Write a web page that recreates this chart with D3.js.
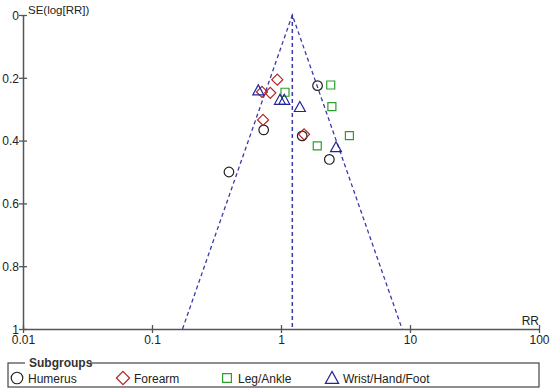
<!DOCTYPE html>
<html>
<head>
<meta charset="utf-8">
<script src="https://cdn.jsdelivr.net/npm/d3@7"></script>
<style>
  body { margin: 0; background: #fff; }
  svg { font-family: "Liberation Sans", Arial, sans-serif; }
</style>
</head>
<body>
<div id="funnel_plotParent"></div>
<script>
// study data
const humerusRR = [1.92, 0.734, 1.46, 2.37, 0.395];
const humerusSE = [0.225, 0.366, 0.385, 0.46, 0.50];
const forearmRR = [0.936, 0.826, 0.712, 0.726, 1.51];
const forearmSE = [0.206, 0.248, 0.245, 0.334, 0.38];
const legRR = [1.074, 2.43, 2.48, 3.39, 1.91];
const legSE = [0.246, 0.223, 0.292, 0.384, 0.417];
const wristRR = [0.667, 0.982, 1.06, 1.40, 2.67];
const wristSE = [0.24, 0.27, 0.27, 0.293, 0.421];

const pooledRR = 1.224;
const xTicks = [0.01, 0.1, 1, 10, 100];
const yTicks = [0, 0.2, 0.4, 0.6, 0.8, 1];
const groupNames = ["Humerus", "Forearm", "Leg/Ankle", "Wrist/Hand/Foot"];

const W = 550, H = 389;
const margin = {top: 15, right: 11, bottom: 60, left: 23};

const svg = d3.select("#funnel_plotParent")
  .append("svg")
  .attr("width", W)
  .attr("height", H);

// scales
const x = d3.scaleLog()
  .domain([0.01, 100])
  .range([margin.left, W - margin.right]);
const y = d3.scaleLinear()
  .domain([0, 1])
  .range([margin.top, H - margin.bottom]);

// axes
const axisColor = "#555";
const gx = svg.append("g")
  .attr("transform", "translate(0," + y(1) + ")")
  .call(d3.axisBottom(x).tickValues(xTicks).tickFormat(d => String(d)).tickSize(4).tickSizeOuter(0));
gx.selectAll(".tick line").attr("y1", -4);
const gy = svg.append("g")
  .attr("transform", "translate(" + x(0.01) + ",0)")
  .call(d3.axisLeft(y).tickValues(yTicks).tickFormat(d => String(d)).tickSize(4).tickSizeOuter(0));
gy.selectAll(".tick line").attr("x1", 4);

svg.selectAll(".domain").attr("stroke", axisColor).attr("stroke-width", 1.5);
svg.selectAll(".tick line").attr("stroke", axisColor).attr("stroke-width", 1.3);
svg.selectAll(".tick text").attr("fill", "#222").style("font-size", "12px");
gx.selectAll(".tick text").attr("dy", "0.95em").attr("y", 4);
gy.selectAll(".tick text").attr("x", -4).attr("dy", "0.35em");

// axis titles
svg.append("text")
  .attr("x", x(0.01) + 5)
  .attr("y", 14)
  .style("font-size", "11.5px")
  .attr("fill", "#222")
  .text("SE(log[RR])");
svg.append("text")
  .attr("x", x(100))
  .attr("y", y(1) - 4)
  .attr("text-anchor", "end")
  .style("font-size", "12px")
  .attr("fill", "#222")
  .text("RR");

// funnel (95% limits) and pooled line
const lineColor = "#3a3aa8";
const lo = pooledRR * Math.exp(-1.96), hi = pooledRR * Math.exp(1.96);
const funnel = [[lo, 1], [pooledRR, 0], [hi, 1]];
svg.append("path")
  .datum(funnel)
  .attr("fill", "none")
  .attr("stroke", lineColor)
  .attr("stroke-width", 1.3)
  .attr("stroke-dasharray", "4 3")
  .attr("d", d3.line().x(d => x(d[0])).y(d => y(d[1])));
svg.append("line")
  .attr("x1", x(pooledRR)).attr("x2", x(pooledRR))
  .attr("y1", y(0)).attr("y2", y(1))
  .attr("stroke", lineColor)
  .attr("stroke-width", 1.5)
  .attr("stroke-dasharray", "4 3");

// marker shapes
function markerPath(shape, s) {
  switch (shape) {
    case "circle":
      return d3.arc()({innerRadius: 0, outerRadius: s * 0.48, startAngle: 0, endAngle: 2 * Math.PI});
    case "diamond":
      return `M0,${-s * 0.55}L${s * 0.55},0L0,${s * 0.55}L${-s * 0.55},0Z`;
    case "square":
      return `M${-s * 0.4},${-s * 0.4}H${s * 0.4}V${s * 0.4}H${-s * 0.4}Z`;
    case "triangle":
      return `M0,${-s * 0.55}L${s * 0.55},${s * 0.45}L${-s * 0.55},${s * 0.45}Z`;
  }
}

const groups = [
  {rr: humerusRR, se: humerusSE, shape: "circle", color: "#222222"},
  {rr: forearmRR, se: forearmSE, shape: "diamond", color: "#b02323"},
  {rr: legRR, se: legSE, shape: "square", color: "#2aa02a"},
  {rr: wristRR, se: wristSE, shape: "triangle", color: "#24249a"}
];

groups.forEach(g => {
  const pts = g.rr.map((r, i) => ({x: r, y: g.se[i]}));
  svg.append("g")
    .selectAll("path")
    .data(pts)
    .enter()
    .append("path")
      .attr("transform", d => `translate(${x(d.x)},${y(d.y)})`)
      .attr("d", markerPath(g.shape, 10))
      .attr("fill", "none")
      .attr("stroke", g.color)
      .attr("stroke-width", 1.2);
});

// legend
const legY = 363, legX = 8, legW = 531, legH = 24;
svg.append("rect")
  .attr("x", legX).attr("y", legY)
  .attr("width", legW).attr("height", legH)
  .attr("fill", "none")
  .attr("stroke", "#444")
  .attr("stroke-width", 1.2);
svg.append("rect")
  .attr("x", 25).attr("y", legY - 2)
  .attr("width", 65).attr("height", 4)
  .attr("fill", "#fff");
svg.append("text")
  .attr("x", 29).attr("y", legY + 4)
  .style("font-size", "12px")
  .style("font-weight", "bold")
  .attr("fill", "#333")
  .text("Subgroups");

const legPos = [17, 123, 227, 332];
groups.forEach((g, i) => {
  svg.append("path")
    .attr("transform", `translate(${legPos[i]},${legY + 15})`)
    .attr("d", markerPath(g.shape, g.shape === "square" ? 11 : 12))
    .attr("fill", "none")
    .attr("stroke", g.color)
    .attr("stroke-width", 1.2);
  svg.append("text")
    .attr("x", legPos[i] + 11)
    .attr("y", legY + 19.5)
    .style("font-size", "12px")
    .attr("fill", "#222")
    .text(groupNames[i]);
});
</script>
</body>
</html>
